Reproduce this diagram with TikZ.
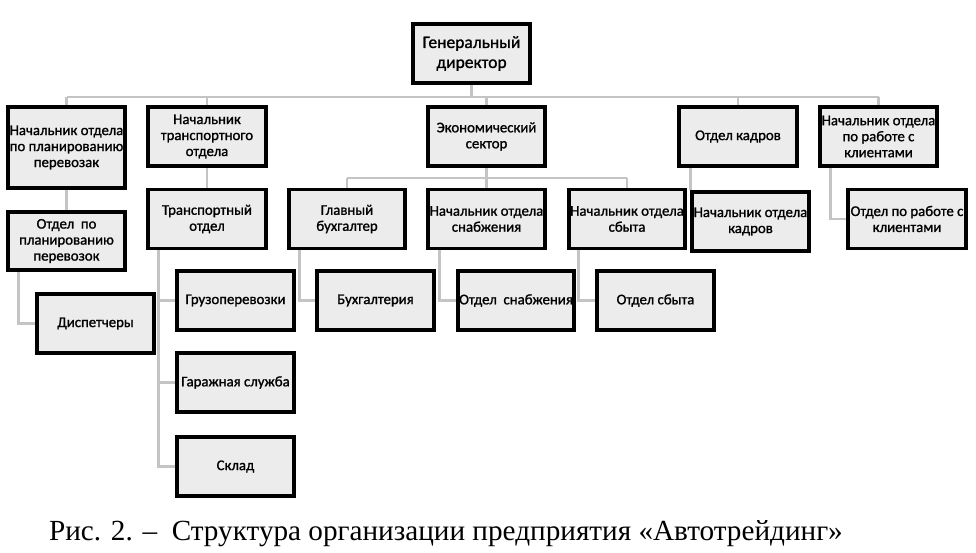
\documentclass[tikz,border=0pt]{standalone}
\usepackage{fontspec}
\setmainfont{Liberation Serif}
\newfontfamily\bxfont[FakeBold=1.2]{Carlito}
\usetikzlibrary{backgrounds}
\definecolor{boxfill}{HTML}{ECECEC}
\definecolor{linegray}{HTML}{C4C4C4}
\begin{document}
\begin{tikzpicture}[x=1pt,y=-1pt,
  bx/.style={draw=black, line width=3.2pt, fill=boxfill, minimum width=117pt, minimum height=59pt,
    inner sep=0pt, align=center, font=\bxfont\fontsize{14.8}{16}\selectfont},
  conn/.style={draw=linegray, line width=2.2pt}]
\useasboundingbox (0,0) rectangle (976,553);
% level 0
\node[bx, minimum width=117pt, font=\bxfont\fontsize{17.5}{20}\selectfont] (gd) at (471.5,53.5) {Генеральный\\директор};
% level 1
\node[bx, minimum height=81pt] (b1) at (66.5,147.5) {Начальник отдела\\по планированию\\перевозак};
\node[bx, minimum width=118pt] (b2) at (207,136.5) {Начальник\\транспортного\\отдела};
\node[bx] (b3) at (486.5,136.5) {Экономический\\сектор};
\node[bx, minimum width=118pt] (b4) at (738,136.5) {Отдел кадров};
\node[bx] (b5) at (878.5,136.5) {Начальник отдела\\по работе с\\клиентами};
% level 2
\node[bx, minimum height=58pt] (c1) at (66.5,241) {Отдел~~по\\планированию\\перевозок};
\node[bx, minimum width=118pt] (c2) at (207,219) {Транспортный\\отдел};
\node[bx, minimum width=116pt] (c3) at (347,219) {Главный\\бухгалтер};
\node[bx] (c4) at (486.5,219) {Начальник отдела\\снабжения};
\node[bx, minimum width=116pt] (c5) at (627,219) {Начальник отдела\\сбыта};
\node[bx] (c6) at (750.5,221.5) {Начальник отдела\\кадров};
\node[bx, minimum width=118pt] (c7) at (907,219) {Отдел по работе с\\клиентами};
% level 3
\node[bx] (d1) at (95.5,323.5) {Диспетчеры};
\node[bx] (d2) at (235.5,300.5) {Грузоперевозки};
\node[bx] (d3) at (375.5,300.5) {Бухгалтерия};
\node[bx, minimum width=116pt] (d4) at (516,300.5) {Отдел~~снабжения};
\node[bx] (d5) at (655.5,300.5) {Отдел сбыта};
\node[bx] (e1) at (235.5,382.5) {Гаражная служба};
\node[bx] (e2) at (235.5,466.5) {Склад};
% caption
\node[anchor=base, inner sep=0pt, font=\fontsize{29.2}{34}\selectfont] (cap) at (446,540) {Рис. 2. –~~Структура организации предприятия «Автотрейдинг»};
% connectors
\coordinate (bus) at (0,97);
\coordinate (sbus) at (0,178);
\begin{pgfonlayer}{background}
\fill[white] (0,0) rectangle (976,553);
\draw[conn] (gd.south) -- (gd.south |- bus);
\draw[conn] (b1.north |- bus) -- (b5.north |- bus);
\foreach \n in {b1,b2,b3,b4,b5} { \draw[conn] (\n.north |- bus) -- (\n.north); }
\draw[conn] (b3.south) -- (b3.south |- sbus);
\draw[conn] (c3.north |- sbus) -- (c5.north |- sbus);
\foreach \n in {c3,c4,c5} { \draw[conn] (\n.north |- sbus) -- (\n.north); }
\draw[conn] (b1.south) -- (c1.north);
\draw[conn] ([xshift=12pt]c1.south west) |- (d1.west);
\draw[conn] (b2.south) -- (c2.north);
\draw[conn] ([xshift=12pt]c2.south west) |- (d2.west);
\draw[conn] ([xshift=12pt]c2.south west) |- (e1.west);
\draw[conn] ([xshift=12pt]c2.south west) |- (e2.west);
\draw[conn] ([xshift=12pt]c3.south west) |- (d3.west);
\draw[conn] ([xshift=13pt]c4.south west) |- (d4.west);
\draw[conn] ([xshift=11pt]c5.south west) |- (d5.west);
\draw[conn] (c6.north west |- b4.south) -- (c6.north west);
\draw[conn] ([xshift=12pt]b5.south west) |- (c7.west);
\end{pgfonlayer}
\end{tikzpicture}
\end{document}
